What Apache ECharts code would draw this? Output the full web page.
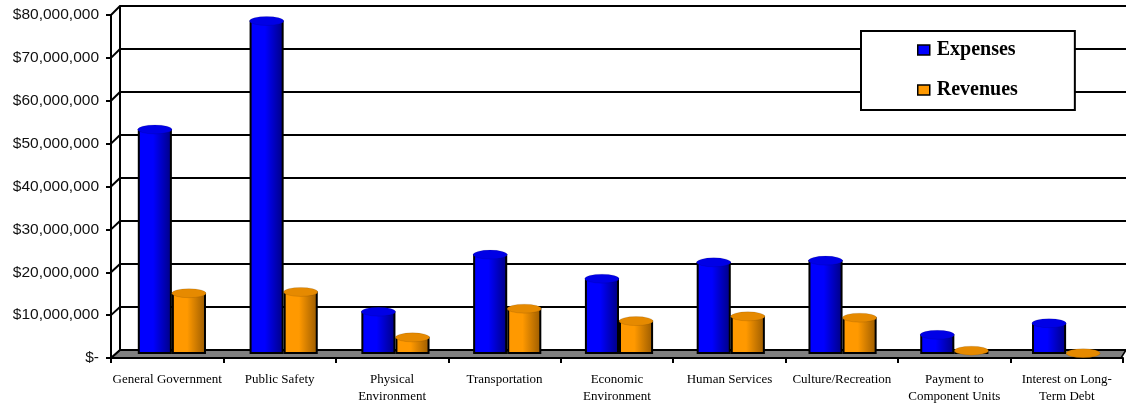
<!DOCTYPE html>
<html>
<head>
<meta charset="utf-8">
<style>
  html, body { margin: 0; padding: 0; background: #fff; }
  #main { width: 1126px; height: 407px; }
</style>
<script src="https://cdn.jsdelivr.net/npm/echarts@6/dist/echarts.min.js"></script>
</head>
<body>
<div id="main"></div>
<script>
// 数据
var categories = ['General Government', 'Public Safety', 'Physical\nEnvironment', 'Transportation',
  'Economic\nEnvironment', 'Human Services', 'Culture/Recreation', 'Payment to\nComponent Units',
  'Interest on Long-\nTerm Debt'];
var expenses = [52500000, 77800000, 10000000, 23300000, 17700000, 21500000, 21900000, 4600000, 7300000];
var revenues = [14300000, 14600000, 4000000, 10700000, 7800000, 8900000, 8600000, 900000, 300000];
var yTicks = [0, 10000000, 20000000, 30000000, 40000000, 50000000, 60000000, 70000000, 80000000];

var W = 1126, H = 407;
var yMax = 80000000;
// 前面(坐标轴)、后墙、柱子 三个网格
var front = { left: 111, right: 3, top: 15, bottom: 49 };
var back = { left: 120, right: 0, top: 6, bottom: 57 };
var mid = { left: 116, right: 4, top: 11, bottom: 53 };

var chart = echarts.init(document.getElementById('main'));

function grad(c1, c2) {
  return new echarts.graphic.LinearGradient(0, 0, 1, 0, [
    { offset: 0, color: c1 }, { offset: 0.45, color: c1 }, { offset: 1, color: c2 }
  ]);
}

// 左侧墙的斜线 + 地板
var graphics = [];
var fTop = front.top, fBot = H - front.bottom;
var bTop = back.top, bBot = H - back.bottom;
yTicks.forEach(function (v) {
  var fy = fBot - v / yMax * (fBot - fTop);
  var by = bBot - v / yMax * (bBot - bTop);
  graphics.push({
    type: 'line', z: 1,
    shape: { x1: front.left, y1: fy, x2: back.left, y2: by },
    style: { stroke: '#000', lineWidth: 2 }
  });
});
graphics.push({
  type: 'polygon', z: 0,
  shape: { points: [[front.left, fBot], [back.left, bBot], [W, bBot], [W - 5, fBot]] },
  style: { fill: '#808080', stroke: '#000', lineWidth: 1.5 }
});

var labelFont = 'Liberation Sans';
var serif = 'Liberation Serif';

var option = {
  animation: false,
  backgroundColor: '#fff',
  grid: [
    { left: front.left, right: front.right, top: front.top, bottom: front.bottom },
    { left: back.left, right: back.right, top: back.top, bottom: back.bottom },
    { left: mid.left, right: mid.right, top: mid.top, bottom: mid.bottom }
  ],
  legend: {
    data: [
      { name: 'Expenses', itemStyle: { color: '#0000ff', borderColor: '#000', borderWidth: 1.5 } },
      { name: 'Revenues', itemStyle: { color: '#ff9900', borderColor: '#000', borderWidth: 1.5 } }
    ],
    orient: 'vertical',
    left: 861, top: 31,
    padding: [9, 57, 10, 56],
    itemGap: 20,
    itemWidth: 12, itemHeight: 10,
    icon: 'rect',
    backgroundColor: '#fff',
    borderColor: '#000',
    borderWidth: 2,
    textStyle: { fontFamily: serif, fontWeight: 'bold', fontSize: 20, color: '#000', padding: [0, 0, 0, 2] },
    z: 10
  },
  xAxis: [
    {
      gridIndex: 0, type: 'category', data: categories,
      axisLine: { lineStyle: { color: '#000', width: 2 } },
      axisTick: { show: true, length: 5, lineStyle: { color: '#000', width: 2 } },
      axisLabel: { fontFamily: serif, fontSize: 13, color: '#000', margin: 13, lineHeight: 17, interval: 0 }
    },
    { gridIndex: 1, type: 'category', data: categories, show: false },
    { gridIndex: 2, type: 'category', data: categories, show: false }
  ],
  yAxis: [
    {
      gridIndex: 0, type: 'value', min: 0, max: yMax, interval: 10000000,
      axisLine: { show: true, lineStyle: { color: '#000', width: 2 } },
      axisTick: { show: true, length: 5, lineStyle: { color: '#000', width: 2 } },
      splitLine: { show: false },
      axisLabel: {
        fontFamily: labelFont, fontSize: 15.5, color: '#111', margin: 12,
        formatter: function (v) { return v === 0 ? '$-' : '$' + v.toLocaleString('en-US'); }
      }
    },
    {
      gridIndex: 1, type: 'value', min: 0, max: yMax, interval: 10000000,
      axisLine: { show: true, lineStyle: { color: '#000', width: 2 } },
      axisTick: { show: false }, axisLabel: { show: false },
      splitLine: { show: true, lineStyle: { color: '#000', width: 2 } }
    },
    { gridIndex: 2, type: 'value', min: 0, max: yMax, show: false }
  ],
  series: [
    {
      name: 'Expenses', type: 'bar', xAxisIndex: 2, yAxisIndex: 2, data: expenses,
      barGap: '0%', barCategoryGap: '39%', z: 3,
      itemStyle: { color: grad('#0000ff', '#000080'), borderColor: '#000', borderWidth: 2 }
    },
    {
      name: 'Revenues', type: 'bar', xAxisIndex: 2, yAxisIndex: 2, data: revenues,
      barGap: '0%', barCategoryGap: '39%', z: 3,
      itemStyle: { color: grad('#ff9900', '#995a00'), borderColor: '#000', borderWidth: 2 }
    },
    {
      name: 'Expenses', type: 'pictorialBar', xAxisIndex: 2, yAxisIndex: 2, data: expenses,
      barGap: '0%', barCategoryGap: '39%', z: 4,
      symbol: 'circle', symbolSize: ['100%', 9], symbolPosition: 'end', symbolOffset: [0, '-50%'],
      itemStyle: { color: '#0000e6', borderColor: '#000', borderWidth: 2 }
    },
    {
      name: 'Revenues', type: 'pictorialBar', xAxisIndex: 2, yAxisIndex: 2, data: revenues,
      barGap: '0%', barCategoryGap: '39%', z: 4,
      symbol: 'circle', symbolSize: ['100%', 9], symbolPosition: 'end', symbolOffset: [0, '-50%'],
      itemStyle: { color: '#e68a00', borderColor: '#000', borderWidth: 2 }
    }
  ],
  graphic: graphics
};

chart.setOption(option);
window.onresize = function () { chart.resize(); };
</script>
</body>
</html>
